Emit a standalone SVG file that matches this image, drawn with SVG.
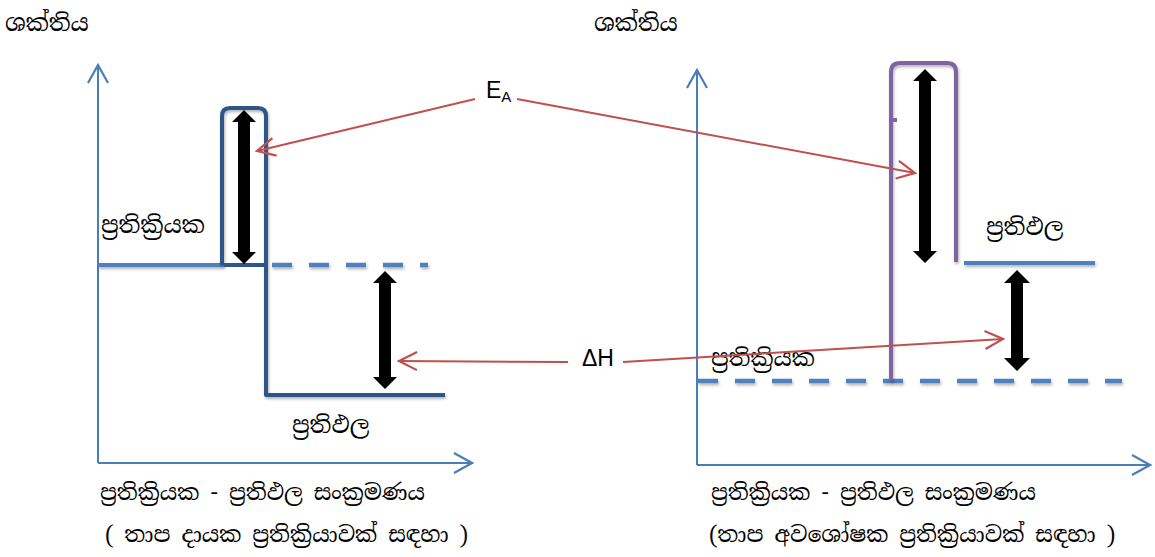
<svg xmlns="http://www.w3.org/2000/svg" width="1155" height="557" viewBox="0 0 1155 557">
  <style>
    .si { font-family: "Noto Serif Sinhala", "Noto Sans Sinhala", "Iskoola Pota", "Noto Sans", sans-serif; fill: #000; }
    .lbl { font-size: 23px; }
    .cap { font-size: 22px; }
    .sym { font-family: "Liberation Sans", Arial, sans-serif; fill: #000; font-size: 23px; }
    .axis { stroke: #4a7ebb; stroke-width: 2; fill: none; }
    .level { stroke: #4f81bd; stroke-width: 4; fill: none; }
    .dash { stroke: #4f81bd; stroke-width: 4.5; fill: none; stroke-dasharray: 20 17; }
    .exo { stroke: #2d5589; stroke-width: 4; fill: none; stroke-linejoin: round; }
    .endo { stroke: #8064a2; stroke-width: 4; fill: none; stroke-linejoin: round; }
    .ptr { stroke: #c0504d; stroke-width: 2; fill: none; }
    .dbl { fill: #000; }
  </style>
  <defs>
    <filter id="shadow" filterUnits="userSpaceOnUse" x="0" y="0" width="1155" height="557">
      <feDropShadow dx="1" dy="2" stdDeviation="1.5" flood-color="#000" flood-opacity="0.3"/>
    </filter>
    <marker id="axisHead" viewBox="0 0 22 22" refX="20" refY="11" markerWidth="22" markerHeight="22" markerUnits="userSpaceOnUse" orient="auto">
      <path d="M2,1 L20,11 L2,21" stroke="#4a7ebb" stroke-width="2.2" fill="none"/>
    </marker>
    <marker id="ptrHead" viewBox="0 0 22 22" refX="20" refY="11" markerWidth="22" markerHeight="22" markerUnits="userSpaceOnUse" orient="auto">
      <path d="M2,2 L20,11 L2,20" stroke="#c0504d" stroke-width="2.2" fill="none"/>
    </marker>
  </defs>

  <!-- exothermic profile (left) -->
  <g id="exo-axes">
    <line class="axis" x1="98" y1="463" x2="98" y2="65" marker-end="url(#axisHead)"/>
    <line class="axis" x1="98" y1="463" x2="472" y2="463" marker-end="url(#axisHead)"/>
    <text class="si lbl" x="5" y="31">ශක්තිය</text>
  </g>
  <g id="exo-reactants">
    <line class="level" x1="98" y1="265" x2="224" y2="265" filter="url(#shadow)"/>
    <line class="dash" x1="272" y1="265" x2="428" y2="265" filter="url(#shadow)"/>
    <text class="si lbl" x="101" y="233">ප්‍රතික්‍රියක</text>
  </g>
  <g id="exo-path">
    <path class="exo" d="M222,265 V116 Q222,108 230,108 H258 Q266,108 266,116 V395 H445" filter="url(#shadow)"/>
    <line x1="224" y1="265" x2="264" y2="265" stroke="#2d5589" stroke-width="4"/>
  </g>
  <g id="exo-products">
    <text class="si lbl" x="292" y="433">ප්‍රතිඵල</text>
  </g>
  <g id="exo-ea">
    <polygon class="dbl" points="244,110 256,122 250,122 250,252 256,252 244,264 232,252 238,252 238,122 232,122"/>
  </g>
  <g id="exo-dh">
    <polygon class="dbl" points="385,271 397,283 391,283 391,377 397,377 385,389 373,377 379,377 379,283 373,283"/>
  </g>
  <g id="exo-caption">
    <text class="si cap" x="100" y="500">ප්‍රතික්‍රියක - ප්‍රතිඵල සංක්‍රමණය</text>
    <text class="si cap" x="105" y="542">( තාප දායක ප්‍රතික්‍රියාවක් සඳහා )</text>
  </g>

  <!-- endothermic profile (right) -->
  <g id="endo-axes">
    <line class="axis" x1="697" y1="465" x2="697" y2="70" marker-end="url(#axisHead)"/>
    <line class="axis" x1="697" y1="465" x2="1150" y2="465" marker-end="url(#axisHead)"/>
    <text class="si lbl" x="594" y="31">ශක්තිය</text>
  </g>
  <g id="endo-reactants">
    <line class="dash" x1="698" y1="381" x2="1122" y2="381" filter="url(#shadow)"/>
    <text class="si lbl" x="711" y="366">ප්‍රතික්‍රියක</text>
  </g>
  <g id="endo-path">
    <path class="endo" d="M891,381 V72 Q891,63 900,63 H947 Q956,63 956,72 V262" filter="url(#shadow)"/>
    <line x1="891" y1="120" x2="897" y2="120" stroke="#8064a2" stroke-width="4"/>
  </g>
  <g id="endo-products">
    <line class="level" x1="964" y1="263" x2="1095" y2="263" filter="url(#shadow)"/>
    <text class="si lbl" x="986" y="235">ප්‍රතිඵල</text>
  </g>
  <g id="endo-ea">
    <polygon class="dbl" points="925,69 937,81 931,81 931,251 937,251 925,263 913,251 919,251 919,81 913,81"/>
  </g>
  <g id="endo-dh">
    <polygon class="dbl" points="1017,270 1030,283 1023,283 1023,358 1030,358 1017,371 1004,358 1011,358 1011,283 1004,283"/>
  </g>
  <g id="endo-caption">
    <text class="si cap" x="711" y="500">ප්‍රතික්‍රියක - ප්‍රතිඵල සංක්‍රමණය</text>
    <text class="si cap" x="709" y="542">(තාප අවශෝෂක ප්‍රතික්‍රියාවක් සඳහා )</text>
  </g>

  <!-- shared labels -->
  <g id="label-ea">
    <text class="sym" x="486" y="98">E<tspan font-size="15" dy="4">A</tspan></text>
  </g>
  <g id="label-dh">
    <text class="sym" x="582" y="366">ΔH</text>
  </g>

  <!-- pointer connectors -->
  <g id="connectors">
    <line class="ptr" x1="475" y1="99" x2="257" y2="151" marker-end="url(#ptrHead)"/>
    <line class="ptr" x1="517" y1="99" x2="915" y2="173" marker-end="url(#ptrHead)"/>
    <line class="ptr" x1="568" y1="362" x2="399" y2="361" marker-end="url(#ptrHead)"/>
    <line class="ptr" x1="623" y1="362" x2="1003" y2="339" marker-end="url(#ptrHead)"/>
  </g>
</svg>
